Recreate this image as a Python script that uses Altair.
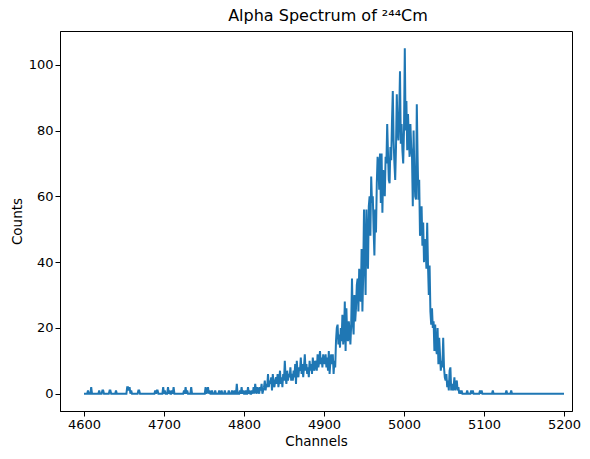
import altair as alt
import pandas as pd

start_channel = 4600
counts_4600_4799 = [
    0,0,0,0,0,1,0,0,0,2,
    0,0,0,0,0,0,0,0,0,1,
    0,0,0,1,1,0,0,0,0,0,
    0,0,1,1,0,0,0,0,0,0,
    1,0,0,0,0,0,0,0,0,0,
    0,0,0,0,2,2,1,2,0,1,
    0,0,0,0,0,0,0,0,1,1,
    0,0,0,0,0,0,0,0,0,0,
    0,0,0,0,0,0,0,0,0,1,
    0,1,1,0,0,0,0,0,0,2,
    0,1,0,0,0,2,0,1,0,0,
    1,0,2,0,0,0,0,0,0,0,
    0,0,0,0,0,1,0,2,0,1,
    0,0,0,0,2,0,0,0,0,0,
    0,0,0,0,0,0,0,0,0,0,
    0,0,2,0,1,2,0,1,0,0,
    1,0,0,0,1,0,0,0,0,1,
    0,0,1,0,0,0,1,0,0,0,
    0,1,0,0,0,1,0,0,1,0,
    0,3,0,0,0,1,0,2,0,1,
]
counts_4800_4899 = [
    0,0,1,0,0,2,0,1,0,0,
    1,0,2,0,3,1,0,2,1,0,
    2,1,3,0,1,2,4,1,3,2,
    6,2,4,3,5,1,6,3,2,4,
    5,3,6,2,4,7,3,5,2,6,
    4,10,5,3,7,4,6,5,8,4,
    6,4,7,5,9,3,10,6,5,8,
    7,11,6,9,5,8,12,7,9,6,
    8,5,10,7,9,6,11,8,7,10,
    9,7,12,8,10,13,9,11,8,12,
]
counts_4900_4999 = [
    10,9,12,8,11,7,13,6,10,12,
    9,12,6,10,8,16,20,21,15,18,
    14,20,16,24,15,18,28,13,26,17,
    16,22,19,15,21,35,22,18,30,22,
    26,33,35,25,38,30,28,44,25,36,
    56,42,30,56,45,38,57,60,48,66,
    58,60,50,42,56,49,64,72,70,62,
    73,58,73,55,68,65,60,72,70,82,
    73,65,64,75,71,83,92,77,70,65,
    75,91,80,77,85,98,76,82,74,70,
]
counts_5000_5099 = [
    80,105,80,89,74,85,78,72,82,75,
    72,57,80,67,60,59,88,72,59,65,
    48,50,57,45,52,40,47,45,38,52,
    39,30,39,25,21,26,20,22,13,21,
    14,12,20,9,17,12,7,10,8,17,
    8,5,4,6,2,4,1,7,8,1,
    3,1,2,5,1,3,4,1,2,0,
    1,0,1,0,0,0,0,0,0,1,
    0,0,0,0,1,0,1,0,0,0,
    0,0,0,0,0,1,0,1,0,0,
]
counts_5100_5200 = [
    0,0,0,0,0,0,0,0,0,0,
    0,1,0,0,0,0,0,0,0,0,
    0,0,0,0,0,0,0,0,1,0,
    0,0,0,0,1,0,0,0,0,0,
    0,0,0,0,0,0,0,0,0,0,
    0,0,0,0,0,0,0,0,0,0,
    0,0,0,0,0,0,0,0,0,0,
    0,0,0,0,0,0,0,0,0,0,
    0,0,0,0,0,0,0,0,0,0,
    0,0,0,0,0,0,0,0,0,0,
    0,
]
x_ticks = [4600, 4700, 4800, 4900, 5000, 5100, 5200]
y_ticks = [0, 20, 40, 60, 80, 100]

counts = (counts_4600_4799 + counts_4800_4899 + counts_4900_4999
          + counts_5000_5099 + counts_5100_5200)
channels = [start_channel + i for i in range(len(counts))]
df = pd.DataFrame({"Channels": channels, "Counts": counts})

font = "DejaVu Sans"
chart = alt.Chart(df).mark_line(color="#1f77b4", strokeWidth=2, clip=True).encode(
    x=alt.X("Channels:Q",
            scale=alt.Scale(domain=[4570, 5210], nice=False, zero=False),
            axis=alt.Axis(values=x_ticks, title="Channels", format="d")),
    y=alt.Y("Counts:Q",
            scale=alt.Scale(domain=[-5.25, 110.25], nice=False, zero=False),
            axis=alt.Axis(values=y_ticks, title="Counts")),
).properties(
    width=512, height=380,
    title=alt.TitleParams("Alpha Spectrum of ²⁴⁴Cm", font=font, fontSize=16,
                          fontWeight="normal", color="black", dx=12, offset=7),
    autosize=alt.AutoSizeParams(type="none"),
    padding={"left": 52, "top": 23, "right": 10, "bottom": 38},
).configure_axis(
    labelFont=font, labelFontSize=13, labelColor="black",
    titleFont=font, titleFontSize=13.5, titleColor="black", titleFontWeight="normal",
    domainColor="black", tickColor="black", tickSize=5, grid=False,
    labelPadding=2,
).configure_axisX(labelPadding=2, titlePadding=3).configure_axisY(titlePadding=4).configure_view(
    stroke="black", strokeWidth=1
)

chart.save("out.html", embed_options={"renderer": "svg", "actions": False})
